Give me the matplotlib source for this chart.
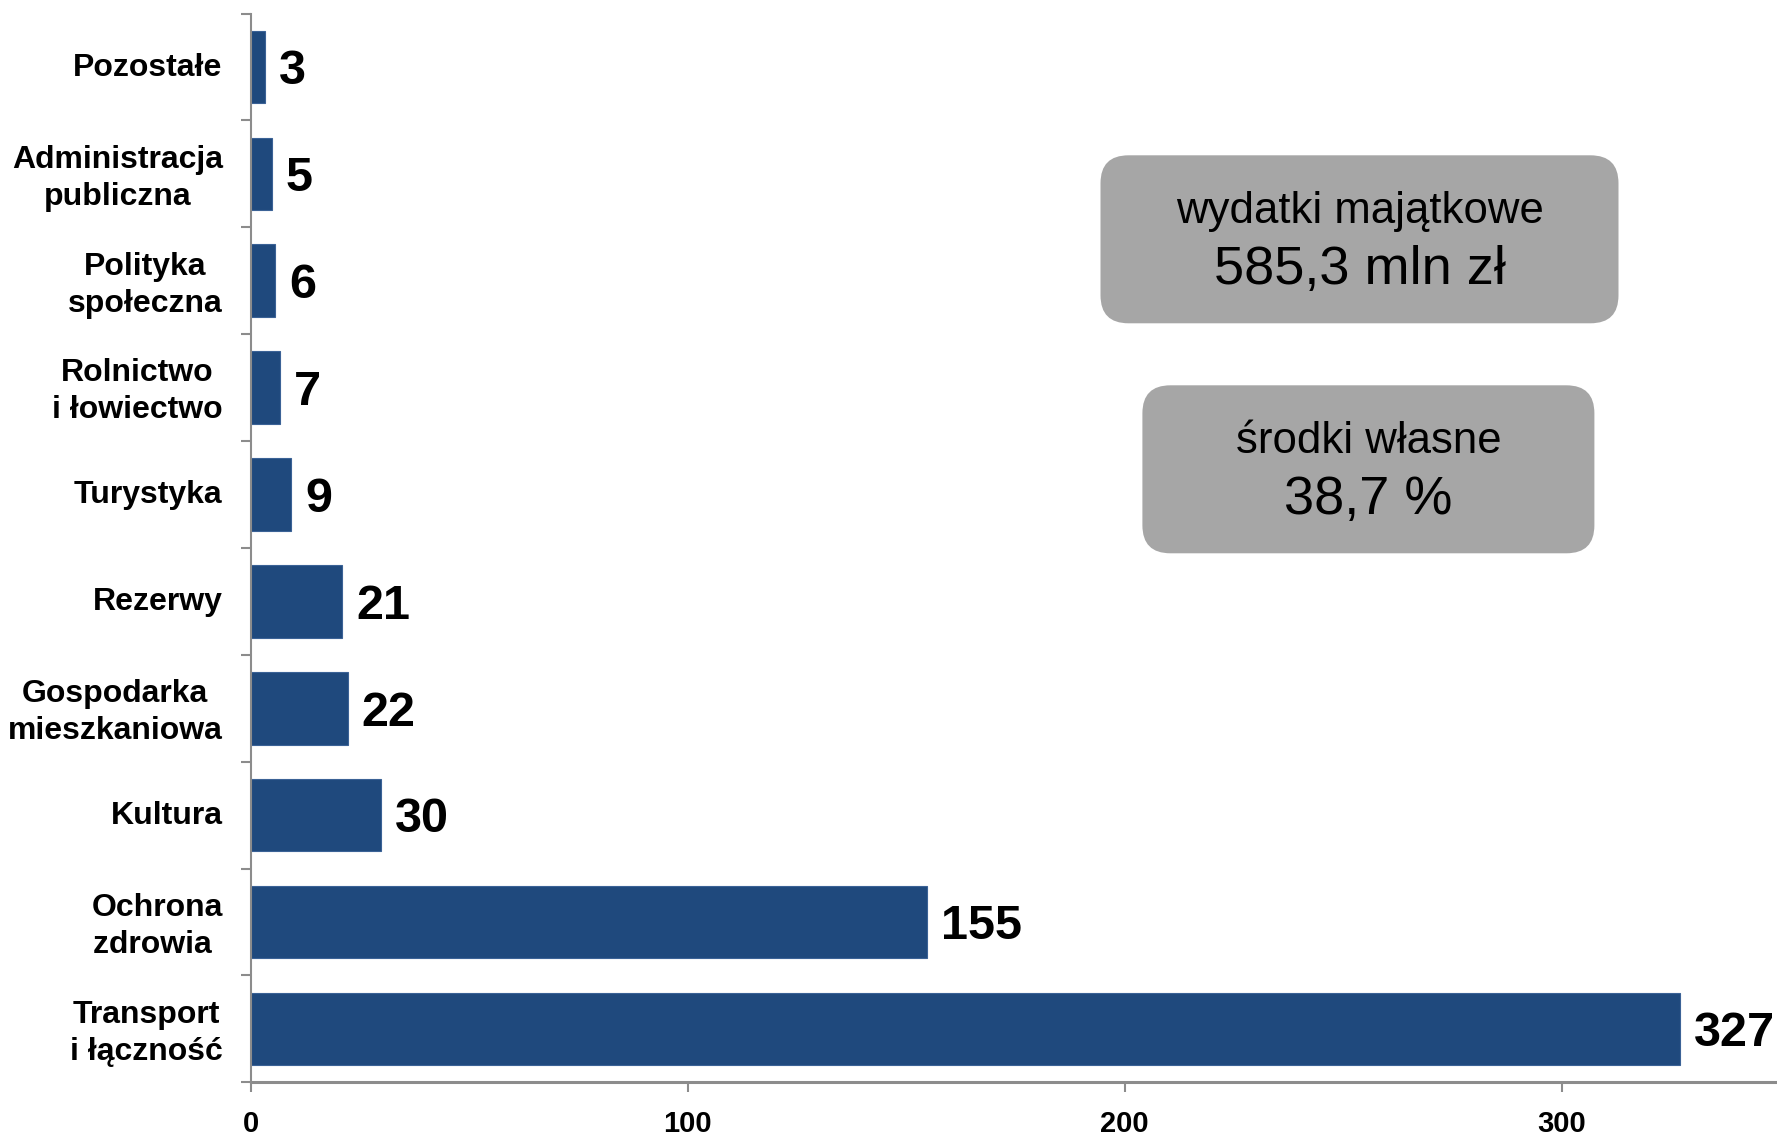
import matplotlib
matplotlib.use('Agg')
import matplotlib.pyplot as plt
from matplotlib.patches import FancyBboxPatch

categories = ["Pozostałe", "Administracja\npubliczna", "Polityka\nspołeczna",
              "Rolnictwo\ni łowiectwo", "Turystyka", "Rezerwy",
              "Gospodarka\nmieszkaniowa", "Kultura", "Ochrona\nzdrowia ",
              "Transport\ni łączność"]
values = [3.4, 4.9, 5.7, 6.7, 9.3, 21.0, 22.3, 29.8, 154.8, 327.0]
xticks = [0, 100, 200, 300]
box_titles = ["wydatki majątkowe", "środki własne"]
box_values = ["585,3 mln zł", "38,7 %"]

W, H = 1777, 1135
FONT = "Liberation Sans"
BAR = "#1F497D"
AXC = "#8C8C8C"

fig = plt.figure(figsize=(W / 100, H / 100), dpi=100)
ax = fig.add_axes([250.5 / W, 1 - 1082.3 / H, 1 - 250.5 / W, (1082.3 - 13.6) / H])

pos = list(range(len(categories)))
ax.barh(pos, values, height=0.68, color=BAR, edgecolor="#3B6296", linewidth=0.8)
ax.set_ylim(len(categories) - 0.5, -0.5)
ax.set_xlim(0, 349.2)

for p, v in zip(pos, values):
    ax.annotate(f"{v:.0f}", xy=(v, p), xytext=(10, -3.5), textcoords="offset points",
                ha="left", va="center", fontsize=35, fontweight="bold",
                family=FONT, color="black", annotation_clip=False)

# category labels sit on invisible major ticks nudged slightly upward
ax.set_yticks([p - 0.025 for p in pos])
ax.set_yticklabels(categories, fontsize=23, fontweight="bold", family=FONT,
                   multialignment="center", linespacing=1.3)
ax.set_yticks([p + 0.5 for p in pos] + [-0.5], minor=True)
ax.tick_params(axis="y", which="major", length=0, pad=20)
ax.tick_params(axis="y", which="minor", length=7, width=1.5, color=AXC, direction="out")

ax.set_xticks(xticks)
ax.set_xticklabels([str(t) for t in xticks], fontsize=21, fontweight="bold", family=FONT)
ax.tick_params(axis="x", which="major", length=7.2, width=1.5, color=AXC, direction="out", pad=13)

for s in ["top", "right"]:
    ax.spines[s].set_visible(False)
for s in ["left", "bottom"]:
    ax.spines[s].set_color(AXC)
ax.spines["left"].set_linewidth(1.5)
ax.spines["bottom"].set_linewidth(2.2)

ov = fig.add_axes([0, 0, 1, 1])
ov.set_xlim(0, W)
ov.set_ylim(H, 0)
ov.axis("off")
ov.patch.set_alpha(0)

boxes = [(1100.5, 155.3, 518, 168), (1142.4, 385.3, 452, 168)]
for (x0, y0, bw, bh), t1, t2 in zip(boxes, box_titles, box_values):
    ov.add_patch(FancyBboxPatch((x0, y0), bw, bh, boxstyle="round,pad=0,rounding_size=28",
                                fc="#A6A6A6", ec="none"))
    cx = x0 + bw / 2
    ov.text(cx, y0 + 56, t1, ha="center", va="center", fontsize=31.5, family=FONT, color="black")
    ov.text(cx, y0 + 115, t2, ha="center", va="center", fontsize=39, family=FONT, color="black")

fig.savefig("out.png", dpi=100)
